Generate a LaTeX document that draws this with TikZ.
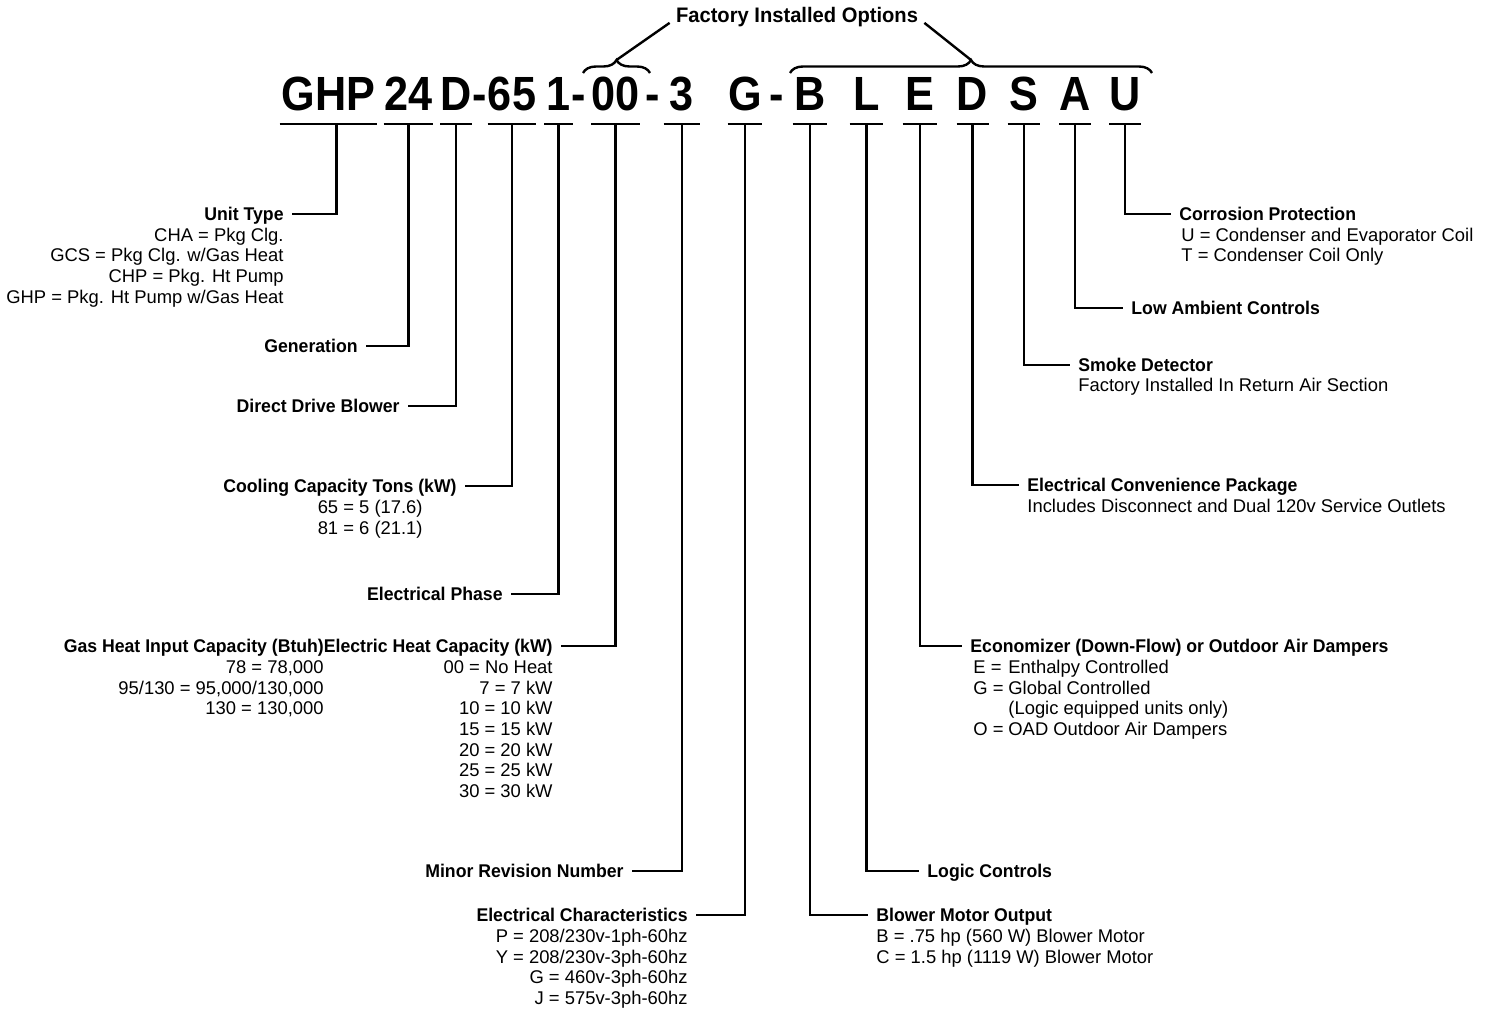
\documentclass[tikz,border=0pt]{standalone}
\usepackage{fontspec}
\setmainfont{Liberation Sans}[BoldFeatures={FakeStretch=0.96}]
\newfontfamily\codefont{Liberation Sans}[FakeStretch=0.9]
\usepackage{tikz}
\usetikzlibrary{decorations.pathreplacing}
\newcommand\txtsize{\fontsize{9.2}{11}\selectfont}
\tikzset{
  code/.style ={font=\codefont\bfseries\fontsize{24}{24}\selectfont, anchor=south,
                inner xsep=0pt, inner ysep=6.5pt, text height=17.2pt, text depth=0pt},
  head/.style ={font=\txtsize\bfseries, inner xsep=4pt, inner ysep=0pt,
                text height=6.6pt, text depth=0pt},
  sub/.style  ={font=\txtsize, inner sep=0pt, text height=6.6pt, text depth=0pt},
  uline/.style={line width=1.2pt},
  leader/.style={line width=1.2pt},
  curly/.style={line width=1.2pt, decorate, decoration={brace, amplitude=6.5pt}},
}

\begin{document}
\begin{tikzpicture}[x=0.5pt, y=-0.5pt]
  \useasboundingbox (0,0) rectangle (1497,1010);
  % model number, one underlined group per field
  \foreach \n/\t/\x/\w in {ut/GHP/328.5/97, gen/24/408.5/49, drv/D/456/26, cap/65/512/46,
      ph/1/558.5/28, ht/00/615.5/45, rev/3/682/36, el/G/745/34, bl/B/810/34,
      lg/L/866.5/33, ec/E/920/34, ep/D/972.5/31, sd/S/1024/32, la/A/1075/30, cp/U/1125/30}{
    \node[code, minimum width=\w*0.5pt] (c\n) at (\x,124) {\t};
    \draw[uline] (c\n.south west) -- (c\n.south east);
  }
  \foreach \x [count=\i] in {480,579,653,777}
    \node[code] (dash\i) at (\x,124) {-};

  % factory installed options
  \draw[curly] (583,73) -- (650,73);
  \draw[curly] (790,73) -- (1152,73);
  \coordinate (tip1) at (616.5,60);
  \coordinate (tip2) at (971,60);
  \node[head, font=\bfseries\fontsize{10.5}{12}\selectfont, text height=7.5pt, inner xsep=3pt] (fio) at (797,15) {Factory Installed Options};
  \draw[leader] (fio.south west) -- (tip1);
  \draw[leader] (fio.south east) -- (tip2);

  % left hand fields
  \node[head, anchor=east] (hut) at (292,214) {Unit Type};
  \foreach \t [count=\i] in {{CHA = Pkg Clg.}, {GCS = Pkg Clg. w/Gas Heat}, {CHP = Pkg. Ht Pump}, {GHP = Pkg. Ht Pump w/Gas Heat}}
    \node[sub, anchor=east] (ut\i) at (284,{214+20.7*\i}) {\t};
  \node[head, anchor=east] (hgen) at (366,346) {Generation};
  \node[head, anchor=east] (hdrv) at (408,406) {Direct Drive Blower};
  \node[head, anchor=east] (hcap) at (465,486) {Cooling Capacity Tons (kW)};
  \foreach \t [count=\i] in {{65 = 5 (17.6)}, {81 = 6 (21.1)}}
    \node[sub, anchor=east] (cap\i) at (423,{486+20.7*\i}) {\t};
  \node[head, anchor=east] (hph) at (511,594) {Electrical Phase};
  \node[head, anchor=east] (hht) at (561,646) {Gas Heat Input Capacity (Btuh)Electric Heat Capacity (kW)};
  \foreach \t [count=\i] in {{78 = 78,000}, {95/130 = 95,000/130,000}, {130 = 130,000}}
    \node[sub, anchor=east] (gas\i) at (324,{646+20.7*\i}) {\t};
  \foreach \t [count=\i] in {{00 = No Heat}, {7 = 7 kW}, {10 = 10 kW}, {15 = 15 kW}, {20 = 20 kW}, {25 = 25 kW}, {30 = 30 kW}}
    \node[sub, anchor=east] (kw\i) at (553,{646+20.7*\i}) {\t};
  \node[head, anchor=east] (hrev) at (632,871) {Minor Revision Number};
  \node[head, anchor=east] (hel) at (696,915) {Electrical Characteristics};
  \foreach \t [count=\i] in {{P = 208/230v-1ph-60hz}, {Y = 208/230v-3ph-60hz}, {G = 460v-3ph-60hz}, {J = 575v-3ph-60hz}}
    \node[sub, anchor=east] (el\i) at (688,{915+20.7*\i}) {\t};

  % right hand fields
  \node[head, anchor=west] (hbl) at (868,915) {Blower Motor Output};
  \foreach \t [count=\i] in {{B = .75 hp (560 W) Blower Motor}, {C = 1.5 hp (1119 W) Blower Motor}}
    \node[sub, anchor=west] (bl\i) at (876,{915+20.7*\i}) {\t};
  \node[head, anchor=west] (hlg) at (919,871) {Logic Controls};
  \node[head, anchor=west] (hec) at (962,646) {Economizer (Down-Flow) or Outdoor Air Dampers};
  \foreach \k/\t [count=\i] in {E =/Enthalpy Controlled, G =/Global Controlled, /(Logic equipped units only), O =/OAD Outdoor Air Dampers}{
    \node[sub, anchor=west] (eck\i) at (973,{646+20.7*\i}) {\k};
    \node[sub, anchor=west] (ect\i) at (1008,{646+20.7*\i}) {\t};
  }
  \node[head, anchor=west] (hep) at (1019,485) {Electrical Convenience Package};
  \node[sub, anchor=west] (ep1) at (1027,506) {Includes Disconnect and Dual 120v Service Outlets};
  \node[head, anchor=west] (hsd) at (1070,365) {Smoke Detector};
  \node[sub, anchor=west] (sd1) at (1078,385) {Factory Installed In Return Air Section};
  \node[head, anchor=west] (hla) at (1123,308) {Low Ambient Controls};
  \node[head, anchor=west] (hcp) at (1171,214) {Corrosion Protection};
  \foreach \t [count=\i] in {{U = Condenser and Evaporator Coil}, {T = Condenser Coil Only}}
    \node[sub, anchor=west] (cp\i) at (1181,{214+20.7*\i}) {\t};

  % leaders from the fields to their labels
  \draw[leader] ([xshift=4pt]cut.south) |- (hut.east);
  \foreach \n in {gen,drv,cap,ph,ht,rev,el}
    \draw[leader] (c\n.south) |- (h\n.east);
  \foreach \n in {bl,lg,ec,ep,sd,la,cp}
    \draw[leader] (c\n.south) |- (h\n.west);
\end{tikzpicture}
\end{document}
